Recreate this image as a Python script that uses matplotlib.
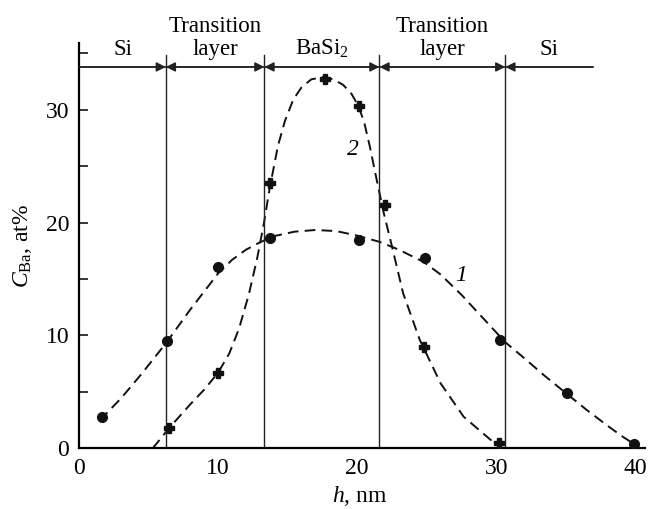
import matplotlib
matplotlib.use("Agg")
import matplotlib.pyplot as plt

plt.rcParams['font.family'] = ['Liberation Serif', 'DejaVu Serif']
plt.rcParams['mathtext.fontset'] = 'custom'
plt.rcParams['mathtext.rm'] = 'Liberation Serif'
plt.rcParams['mathtext.it'] = 'Liberation Serif:italic'

h_1 = [1.67, 6.3, 10.0, 13.74, 20.1, 24.9, 30.25, 35.1, 39.9]
c_1 = [2.75, 9.5, 16.1, 18.67, 18.47, 16.9, 9.6, 4.88, 0.38]
h_2 = [6.46, 10.0, 13.7, 17.7, 20.1, 22.0, 24.8, 30.2]
c_2 = [1.77, 6.65, 23.5, 32.7, 30.3, 21.6, 8.96, 0.44]

# dashed guide curves
curve1_h = [1.5, 3.0, 4.5, 6.24, 8.0, 10.0, 11.0, 12.0, 13.0, 14.0, 15.5, 17.0,
            18.5, 20.0, 21.6, 23.0, 24.8, 26.0, 27.5, 29.0, 30.65, 32.0, 33.5,
            35.0, 36.5, 38.0, 39.0, 40.0]
curve1_c = [2.5, 4.4, 6.6, 9.3, 12.3, 15.5, 16.7, 17.6, 18.25, 18.8, 19.2, 19.35,
            19.25, 18.85, 18.3, 17.6, 16.5, 15.4, 13.6, 11.6, 9.4, 8.0, 6.4,
            4.9, 3.4, 2.0, 1.1, 0.3]
curve2_h = [5.3, 6.46, 8.0, 9.0, 10.0, 10.8, 11.5, 12.2, 12.8, 13.3, 13.7, 14.3,
            14.8, 15.4, 16.0, 16.7, 17.5, 18.3, 19.0, 19.6, 20.1, 20.5, 20.9,
            21.4, 21.9, 22.5, 23.3, 24.5, 26.0, 27.65, 29.6, 30.2]
curve2_c = [0.0, 1.77, 3.9, 5.2, 6.7, 8.4, 10.6, 13.6, 16.8, 20.0, 23.0, 26.8,
            29.0, 30.9, 32.0, 32.7, 32.9, 32.7, 32.2, 31.4, 30.3, 28.9, 26.8,
            23.8, 20.9, 17.9, 13.75, 9.6, 5.75, 2.8, 0.74, 0.3]

# layer boundaries and labels
bounds = [0.0, 6.24, 13.33, 21.6, 30.65, 36.95]
layer_top = ["", "Transition", "", "Transition", ""]
layer_bottom = ["Si", "layer", "BaSi$_2$", "layer", "Si"]

fig = plt.figure(figsize=(6.48, 5.09), dpi=100)
ax = fig.add_axes([0.122, 0.1193, 0.8735, 0.7957])

dash = (5.5, 3.2)
ax.plot(curve1_h, curve1_c, color='#111111', lw=1.4, dashes=dash)
ax.plot(curve2_h, curve2_c, color='#111111', lw=1.4, dashes=dash)
ax.plot(h_1, c_1, 'o', color='#111111', ms=7, zorder=5)
ax.plot(h_2, c_2, 'P', color='#111111', ms=7.5, zorder=5)

# boundaries and arrows
y_arrow = 33.8
for b in bounds[1:-1]:
    ax.plot([b, b], [0, 34.9], color='#222222', lw=1.0)
ax.plot([bounds[0], bounds[-1]], [y_arrow, y_arrow], color='#222222', lw=1.1)
for i in range(len(bounds) - 1):
    a, b = bounds[i], bounds[i + 1]
    if i == 0:
        style = '-|>'
    elif i == len(bounds) - 2:
        style = '<|-'
    else:
        style = '<|-|>'
    ax.annotate('', xy=(b, y_arrow), xytext=(a, y_arrow),
                arrowprops=dict(arrowstyle=style, color='#222222', lw=1.1,
                                mutation_scale=14, shrinkA=0, shrinkB=0))
    mid = (a + b) / 2
    ax.text(mid, 34.85, layer_bottom[i], ha='center', va='baseline', fontsize=16.5)
    if layer_top[i]:
        ax.text(mid, 36.9, layer_top[i], ha='center', va='baseline', fontsize=16.5)

ax.text(27.5, 15.3, "1", style='italic', fontsize=17, ha='center', va='center')
ax.text(19.7, 26.5, "2", style='italic', fontsize=17, ha='center', va='center')

ax.set_xlim(0, 40.7)
ax.set_ylim(0, 35.9)
for s in ['top', 'right']:
    ax.spines[s].set_visible(False)
for s in ['left', 'bottom']:
    ax.spines[s].set_linewidth(1.6)

ax.set_xticks([0, 10, 20, 30, 40])
ax.set_xticks([10, 20], minor=True)
ax.set_yticks([0, 10, 20, 30])
ax.set_yticks([5, 15, 25, 35], minor=True)
ax.tick_params(axis='x', which='major', length=0, labelsize=17, pad=7)
ax.tick_params(axis='x', which='minor', direction='in', length=6.5, width=1.1)
ax.tick_params(axis='y', which='both', direction='in', length=6.5, width=1.1,
               labelsize=17, pad=7)

ax.set_xlabel("$h$, nm", fontsize=17)
ax.set_ylabel("$C_{\\mathrm{Ba}}$, at%", fontsize=17)
ax.xaxis.set_label_coords(0.495, -0.088)
ax.yaxis.set_label_coords(-0.08, 0.5)

fig.savefig("out.png", dpi=100)
